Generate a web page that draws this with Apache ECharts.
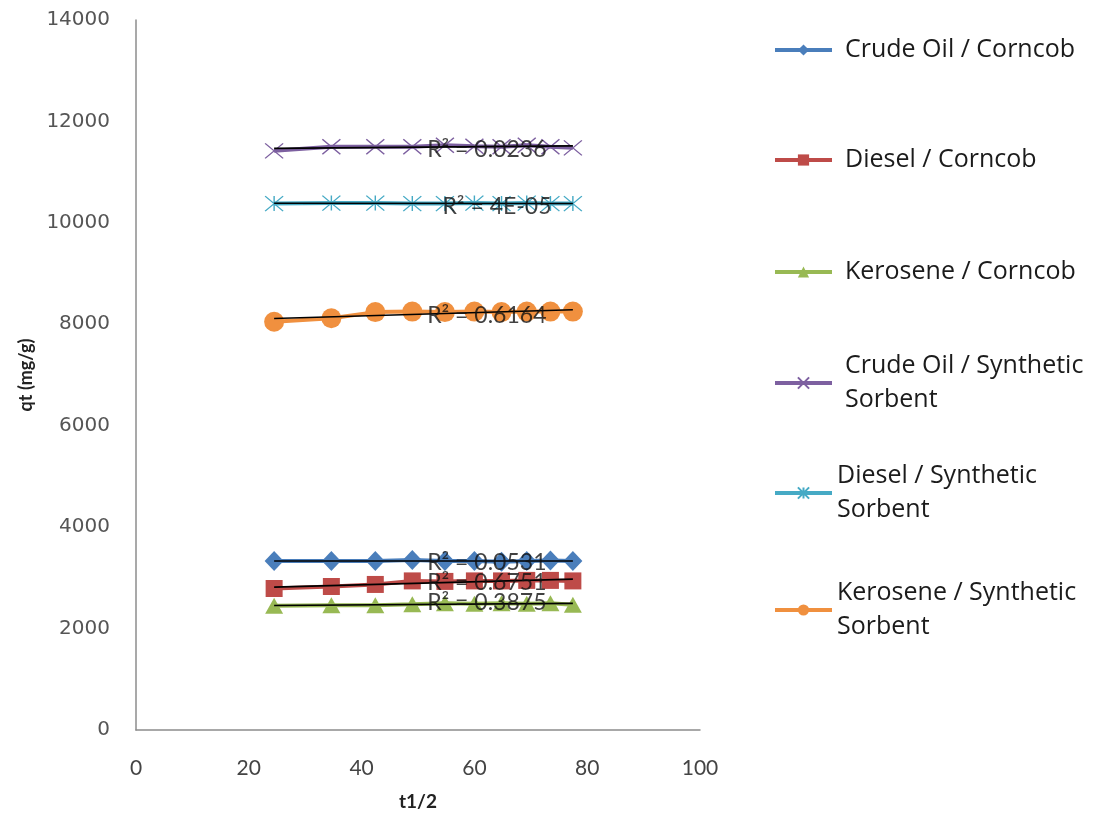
<!DOCTYPE html>
<html>
<head>
<meta charset="utf-8">
<script src="https://cdn.jsdelivr.net/npm/echarts@6/dist/echarts.min.js"></script>
<style>
  html, body { margin: 0; padding: 0; background: #fff; }
  #chart { width: 1108px; height: 823px; }
</style>
</head>
<body>
<div id="chart"></div>
<script>
// Square root of contact time (t1/2) for each sampling point
const sqrtTime = [24.49, 34.64, 42.43, 48.99, 54.77, 60.00, 64.81, 69.28, 73.48, 77.46];

// Sorption capacity qt (mg/g) per oil / sorbent pair
const crudeCorncob      = [3330, 3330, 3330, 3350, 3330, 3330, 3320, 3330, 3340, 3330];
const dieselCorncob     = [2790, 2830, 2870, 2940, 2930, 2940, 2940, 2950, 2950, 2940];
const keroseneCorncob   = [2450, 2460, 2460, 2480, 2500, 2490, 2500, 2490, 2500, 2470];
const crudeSynthetic    = [11420, 11500, 11500, 11500, 11530, 11510, 11500, 11530, 11500, 11480];
const dieselSynthetic   = [10380, 10390, 10390, 10380, 10380, 10390, 10380, 10390, 10380, 10380];
const keroseneSynthetic = [8050, 8120, 8240, 8250, 8240, 8250, 8240, 8250, 8250, 8250];

const seriesNames = [
  'Crude Oil / Corncob',
  'Diesel / Corncob',
  'Kerosene / Corncob',
  'Crude Oil / Synthetic Sorbent',
  'Diesel / Synthetic Sorbent',
  'Kerosene / Synthetic Sorbent'
];
const legendLabels = [
  'Crude Oil / Corncob',
  'Diesel / Corncob',
  'Kerosene / Corncob',
  'Crude Oil / Synthetic\nSorbent',
  'Diesel / Synthetic\nSorbent',
  'Kerosene / Synthetic\nSorbent'
];
// Coefficient of determination of each linear trend line
const r2Labels = ['R² = 0.0531', 'R² = 0.6751', 'R² = 0.3875', 'R² = 0.0236', 'R² = 4E-05', 'R² = 0.6164'];
const r2LabelPos = [[62.2, 3300], [62.2, 2900], [62.2, 2510], [62.2, 11440], [64.0, 10330], [62.2, 8170]];

const xTicks = [0, 20, 40, 60, 80, 100];
const yTicks = [0, 2000, 4000, 6000, 8000, 10000, 12000, 14000];

const valueSets = [crudeCorncob, dieselCorncob, keroseneCorncob, crudeSynthetic, dieselSynthetic, keroseneSynthetic];
const colors = ['#4A7EBB', '#BE4B48', '#98B954', '#7D60A0', '#46AAC5', '#F0903F'];
const symbols = [
  'diamond', 'rect', 'triangle',
  'path://M0,0L10,10M10,0L0,10',
  'path://M0,0L10,10M10,0L0,10M5,0L5,10',
  'circle'
];
const symbolSizes = [[19, 20], 17, [18, 16], [18, 15], [18, 15], 20];

// least squares line through the points of one series
function fitLine(xs, ys) {
  const n = xs.length;
  let sx = 0, sy = 0, sxx = 0, sxy = 0;
  for (let i = 0; i < n; i++) { sx += xs[i]; sy += ys[i]; sxx += xs[i] * xs[i]; sxy += xs[i] * ys[i]; }
  const b = (n * sxy - sx * sy) / (n * sxx - sx * sx);
  const a = (sy - b * sx) / n;
  const x0 = Math.min.apply(null, xs), x1 = Math.max.apply(null, xs);
  return [[x0, a + b * x0], [x1, a + b * x1]];
}

const FONT = 'Lato, "Open Sans", sans-serif';
const LEGEND_FONT = '"Open Sans", Lato, sans-serif';
const series = [];
valueSets.forEach((vals, i) => {
  const stroked = symbols[i].startsWith('path://');
  series.push({
    name: seriesNames[i],
    type: 'line',
    data: sqrtTime.map((x, k) => [x, vals[k]]),
    symbol: symbols[i],
    symbolSize: symbolSizes[i],
    showAllSymbol: true,
    color: colors[i],
    lineStyle: { color: colors[i], width: 4 },
    itemStyle: stroked
      ? { color: colors[i], borderColor: colors[i], borderWidth: 1.3 }
      : { color: colors[i], borderWidth: 0 },
    z: 2
  });
});
valueSets.forEach((vals, i) => {
  series.push({
    name: 'trend' + i,
    type: 'line',
    data: fitLine(sqrtTime, vals),
    symbol: 'none',
    lineStyle: { color: '#000', width: 1.6 },
    silent: true,
    z: 3
  });
});
series.push({
  name: 'r2',
  type: 'scatter',
  symbolSize: 0,
  silent: true,
  z: 4,
  data: r2LabelPos.map((p, i) => ({ value: p, label: { formatter: r2Labels[i] } })),
  label: {
    show: true,
    position: 'inside',
    color: '#111',
    fontFamily: FONT,
    fontSize: 23
  }
});

// one legend block per entry so each sits at its own height
const legendCenters = [50, 160, 272, 383, 493, 610];
const LH = 34;
const legends = seriesNames.map((name, i) => {
  const twoLine = legendLabels[i].indexOf('\n') >= 0;
  const padLeft = i < 4 ? 8 : 0;
  return {
    data: [name],
    orient: 'vertical',
    left: 773,
    top: twoLine ? legendCenters[i] - 1.5 * LH : legendCenters[i] - LH / 2,
    itemWidth: 57,
    itemHeight: 14,
    padding: 0,
    selectedMode: false,
    lineStyle: { width: 4 },
    formatter: () => legendLabels[i],
    textStyle: {
      fontFamily: LEGEND_FONT,
      fontSize: 25,
      color: '#1b1b1b',
      lineHeight: LH,
      padding: twoLine ? [LH, 0, 0, padLeft] : [0, 0, 0, padLeft]
    }
  };
});

const chart = echarts.init(document.getElementById('chart'), null, { renderer: 'canvas' });
chart.setOption({
  animation: false,
  backgroundColor: '#fff',
  grid: { left: 136, right: 408, top: 20, bottom: 93, containLabel: false },
  legend: legends,
  xAxis: {
    type: 'value',
    min: xTicks[0],
    max: xTicks[xTicks.length - 1],
    interval: 20,
    name: 't1/2',
    nameLocation: 'middle',
    nameGap: 62,
    nameTextStyle: { fontFamily: FONT, fontWeight: 'bold', fontSize: 19, color: '#222' },
    axisLine: { lineStyle: { color: '#8c8c8c', width: 1.5 } },
    axisTick: { show: false },
    splitLine: { show: false },
    axisLabel: { margin: 28, fontFamily: FONT, fontSize: 21, color: '#444' }
  },
  yAxis: {
    type: 'value',
    min: yTicks[0],
    max: yTicks[yTicks.length - 1],
    interval: 2000,
    name: 'qt (mg/g)',
    nameLocation: 'middle',
    nameGap: 98,
    nameTextStyle: { fontFamily: FONT, fontWeight: 'bold', fontSize: 18, color: '#222' },
    axisLine: { show: true, lineStyle: { color: '#8c8c8c', width: 1.5 } },
    axisTick: { show: false },
    splitLine: { show: false },
    axisLabel: {
      margin: 26,
      fontFamily: '"DejaVu Sans", sans-serif',
      fontSize: 20,
      color: '#555',
      formatter: v => String(v)
    }
  },
  series: series
});
</script>
</body>
</html>
